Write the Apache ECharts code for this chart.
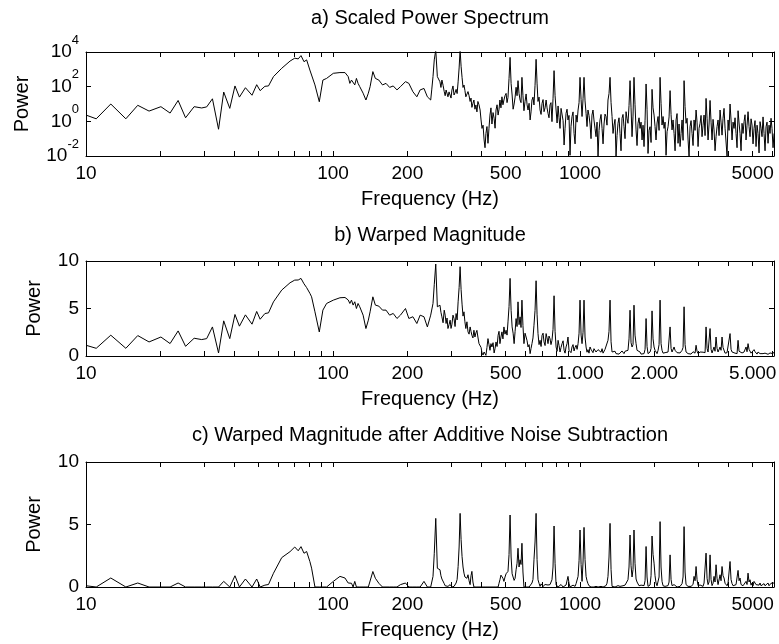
<!DOCTYPE html>
<html lang="en">
<head>
  <meta charset="UTF-8">
  <title>Spectra</title>
  <script src="https://cdn.jsdelivr.net/npm/echarts@6/dist/echarts.min.js"></script>
  <style>html, body { margin: 0; padding: 0; background: #fff; }</style>
</head>
<body>
  <div id="app" style="width: 779px; height: 644px;"></div>
  <script>
    // frequency bins (Hz), shared by the three panels
    var freq = [
      10, 11, 12.6, 14.5, 16.2, 18, 20.1, 21.9, 23.6, 25.3,
      27.4, 29.4, 30.8, 32.5, 34.4, 36.1, 38.2, 40.1, 41.8, 44.2,
      47, 49.1, 50.7, 53, 54.8, 57.4, 62, 67, 70, 72.3,
      74.2, 76.3, 78.2, 80.6, 81.9, 84.5, 88, 91, 94.2, 100.3,
      106.7, 111.8, 115.2, 117, 118.8, 120.6, 122.5, 124.4, 126.3, 128.3,
      132.4, 135.9, 139, 141.3, 145, 148.4, 153.3, 158.6, 163.9, 169.5,
      175.3, 181.5, 187.5, 196.5, 202.8, 210.6, 218.5, 225.3, 233.5, 241,
      248.6, 251, 254, 257, 260.6, 264.5,
      271, 276, 282, 287, 292, 298, 303, 309, 315, 321,
      327, 333, 339, 345, 352, 359, 365, 372, 379, 386,
      394, 401, 409, 416, 424, 432, 440, 449, 457, 466,
      474, 483, 492, 502, 511, 521, 531, 541, 551, 561,
      572, 582, 593, 605, 616, 628, 639, 651, 664, 676,
      689, 702, 715, 729, 742, 756, 770, 785, 800, 815,
      830, 846, 862, 878, 894, 911, 928, 946, 964, 982,
      1000, 1019, 1038, 1058, 1077, 1098, 1118, 1139, 1161, 1183,
      1205, 1228, 1251, 1274, 1298, 1323, 1348, 1373, 1399, 1425,
      1452, 1479, 1507, 1536, 1564, 1594, 1624, 1654, 1686, 1717,
      1750, 1783, 1816, 1851, 1885, 1921, 1957, 1994, 2031, 2070,
      2109, 2148, 2189, 2230, 2272, 2315, 2358, 2403, 2448, 2494,
      2541, 2589, 2638, 2687, 2738, 2789, 2842, 2895, 2950, 3005,
      3062, 3119, 3178, 3238, 3299, 3361, 3424, 3488, 3554, 3621,
      3689, 3758, 3829, 3901, 3975, 4049, 4126, 4203, 4282, 4363,
      4445, 4528, 4614, 4700, 4789, 4879, 4971, 5064, 5160, 5257,
      5356, 5456, 5559, 5664, 5770, 5879, 5989, 6102
    ]

    // a) scaled power spectrum
    var scaledPower = [
      2.3, 1.4, 10, 1.4, 8.4, 3.9, 7, 3, 16, 1.6,
      7, 5.9, 6.8, 20, 0.35, 49, 5.6, 110, 25, 87,
      32, 130, 59, 105, 110, 380, 1150, 3000, 4400, 4000,
      6200, 2750, 3500, 910, 1150, 126, 13.5, 240, 300, 590,
      650, 650, 380, 155, 240, 300, 126, 300, 155, 100,
      42, 17, 42, 100, 740, 300, 240, 126, 155, 91,
      110, 65, 100, 195, 155, 51, 26, 65, 79, 26,
      17, 65, 380, 3500, 13000, 380,
      190, 240, 52, 64, 26, 41, 64, 33, 70, 190,
      13000, 345, 125, 26, 52, 14, 6.4, 17, 8.8, 14,
      4.5, 0.39, 0.084, 0.2, 0.054, 2.3, 0.7, 1.5, 4.5, 2.3,
      17, 26, 17, 41, 24, 4900, 33, 10, 92, 222,
      17, 345, 4.1, 38, 4.5, 1.2, 17, 8.8, 3800, 14,
      4.5, 11, 3.6, 17, 2.9, 8.8, 0.96, 840, 4.5, 7.7,
      0.39, 4.5, 0.043, 2.9, 1.2, 0.011, 1.9, 0.2, 2.3, 4.5,
      345, 1.9, 345, 2.9, 4.5, 0.7, 2.3, 1.2, 0.13, 0.009,
      1.2, 0.39, 0.7, 1.9, 17, 345, 1.9, 0.61, 0.009, 0.77,
      0.2, 1.5, 0.49, 3.6, 0.77, 222, 0.13, 345, 0.32, 0.77,
      0.39, 0.084, 0.035, 143, 0.014, 0.49, 70, 2.3, 0.084, 1.9,
      345, 0.61, 0.39, 0.011, 0.49, 59, 0.32, 0.2, 1.2, 0.054,
      0.035, 1.2, 222, 0.77, 0.084, 0.49, 0.2, 1.2, 4.5, 0.035,
      0.77, 0.13, 2.3, 21, 0.084, 16, 0.084, 0.32, 0.13, 1.2,
      4.5, 0.16, 5.6, 0.32, 1.2, 10, 0.084, 0.39, 0.2, 4.1,
      0.2, 0.77, 0.96, 0.084, 3.6, 0.13, 0.61, 0.39, 0.035, 0.2,
      0.96, 0.13, 0.2, 0.49, 0.054, 0.2, 0.39, 0.2
    ]

    // b) warped magnitude
    var warpedMag = [
      1.13, 0.81, 2.19, 0.81, 2.15, 1.48, 2.0, 1.31, 2.64, 1.02,
      1.87, 1.73, 1.83, 3.06, 0.32, 3.7, 1.83, 4.37, 3.14, 4.33,
      3.35, 4.69, 3.87, 4.47, 4.54, 5.7, 6.94, 7.71, 7.99, 8.0,
      8.17, 7.6, 7.2, 6.6, 6.23, 4.65, 2.53, 4.83, 5.53, 5.88,
      6.13, 6.16, 5.9, 5.53, 5.88, 5.36, 5.71, 5.0, 5.53, 5.18,
      4.3, 2.89, 3.77, 4.65, 6.23, 5.36, 5.25, 4.83, 4.83, 4.3,
      4.48, 3.95, 4.3, 5.0, 3.95, 4.13, 3.42, 4.3, 4.13, 3.06,
      4.3, 4.13, 5.53, 7.5, 9.68, 5.18,
      5.35, 4.12, 4.82, 3.42, 2.89, 3.77, 3.35, 3.94, 4.47, 5.7,
      9.4, 5.46, 4.65, 2.89, 2.54, 3.06, 2.18, 2.71, 2.43, 2.0,
      1.48, 0.32, 0.42, 0.07, 1.83, 0.6, 0.95, 0.32, 1.48, 2.18,
      1.3, 2.54, 3.06, 2.71, 3.59, 8.17, 3.06, 1.3, 3.94, 5.7,
      4.12, 5.88, 1.3, 2.0, 0.95, 0.25, 1.3, 3.24, 7.92, 2.36,
      1.65, 2.18, 1.48, 2.36, 1.3, 1.83, 1.65, 6.34, 0.95, 1.65,
      0.42, 1.3, 0.6, 0.95, 2.0, 0.77, 0.95, 0.53, 1.13, 1.3,
      5.88, 1.3, 5.88, 0.95, 0.67, 0.95, 0.53, 0.77, 0.42, 0.67,
      0.53, 0.77, 0.42, 0.6, 1.65, 5.88, 0.42, 0.6, 0.25, 0.42,
      0.32, 0.53, 0.25, 0.42, 0.6, 4.82, 0.95, 5.35, 1.3, 0.77,
      0.42, 0.32, 0.25, 3.94, 0.25, 0.42, 4.75, 0.95, 0.42, 0.6,
      5.88, 0.6, 0.42, 0.25, 0.42, 3.06, 0.42, 0.95, 0.42, 0.25,
      0.32, 0.6, 5.18, 0.42, 0.25, 0.42, 0.32, 0.6, 1.13, 0.25,
      0.42, 0.32, 0.6, 3.06, 0.42, 2.89, 0.32, 0.95, 2.0, 0.42,
      0.95, 2.0, 0.77, 0.42, 0.53, 2.36, 0.42, 0.25, 0.42, 1.65,
      0.6, 0.32, 0.42, 0.95, 1.3, 0.6, 0.42, 0.67, 0.32, 0.42,
      0.25, 0.32, 0.18, 0.25, 0.18, 0.32, 0.18, 0.42
    ]

    // c) warped magnitude after additive noise subtraction
    var denoisedMag = [
      0.1, 0, 0.72, 0, 0.32, 0, 0, 0, 0.32, 0,
      0, 0, 0, 0, 0, 0.45, 0, 0.9, 0, 0.64,
      0, 0.64, 0, 0.15, 0.2, 1.1, 2.35, 2.83, 3.2, 2.9,
      3.23, 2.7, 2.84, 2.04, 1.51, 0, 0, 0, 0, 0.45,
      0.85, 0.72, 0.32, 0.18, 0.3, 0, 0.45, 0, 0, 0,
      0, 0, 0, 0, 1.24, 0.7, 0.3, 0, 0, 0,
      0, 0, 0.19, 0.32, 0, 0, 0, 0, 0.45, 0,
      0, 0.1, 0.85, 2.66, 5.49, 1.5,
      1.38, 0.64, 0.27, 0.11, 0.05, 0.19, 0, 0.05, 0.32, 1.64,
      5.89, 2.44, 1.11, 0.85, 0.98, 0.19, 1.25, 0, 0, 0,
      0, 0, 0, 0, 0, 0, 0, 0, 0, 0,
      0.58, 0.85, 0.45, 1.06, 1.25, 5.76, 1.06, 0.53, 1.38, 3.1,
      2.18, 3.5, 0, 0, 0, 0.05, 0.32, 2.18, 5.89, 0.58,
      0.05, 0.19, 0.11, 0.27, 0.16, 0.19, 0.58, 4.88, 0.19, 0,
      0.05, 0.11, 0, 0.16, 0.85, 0, 0.05, 0.11, 0.27, 0.85,
      4.56, 0.45, 4.77, 0.85, 0.27, 0.05, 0.11, 0, 0.05, 0,
      0.11, 0, 0.05, 0.11, 0.85, 5.09, 0.05, 0, 0.05, 0.11,
      0.05, 0.16, 0.05, 0.27, 0.58, 4.16, 0.8, 4.56, 0.64, 0.27,
      0.19, 0.05, 0.11, 3.24, 0.05, 0.16, 4.08, 1.91, 0.32, 0.19,
      5.23, 0.45, 0.19, 0, 0.11, 2.57, 0.11, 0.19, 0.11, 0,
      0.05, 0.27, 4.83, 0.19, 0.05, 0.16, 0.11, 0.85, 1.64, 0.11,
      0.16, 0.05, 0.32, 2.71, 0.19, 2.57, 0.11, 0.85, 1.78, 0.19,
      0.98, 1.64, 0.72, 0.19, 0.32, 2.04, 0.27, 0.11, 0.19, 1.33,
      0.72, 0.32, 0.19, 0.45, 1.11, 0.58, 0.32, 0.45, 0.19, 0.27,
      0.32, 0.19, 0.27, 0.16, 0.32, 0.19, 0.27, 0.32
    ]

    // extra bins lying between the bins above (dense upper band)
    var freqHalf = [
      273.5, 279, 284.5, 289.5, 295, 300.5, 306, 312, 318, 324,
      330, 336, 342, 348.5, 355.5, 362, 368.5, 375.5, 382.5, 390,
      397.5, 405, 412.5, 420, 428, 436, 444.5, 453, 461.5, 470,
      478.5, 487.5, 497, 506.5, 516, 526, 536, 546, 556, 566.5,
      577, 587.5, 599, 610.5, 622, 633.5, 645, 657.5, 670, 682.5,
      695.5, 708.5, 722, 735.5, 749, 763, 777.5, 792.5, 807.5, 822.5,
      838, 854, 870, 886, 902.5, 919.5, 937, 955, 973, 991,
      1010, 1028.5, 1048, 1067.5, 1087.5, 1108, 1128.5, 1150, 1172, 1194,
      1216.5, 1239.5, 1262.5, 1286, 1310.5, 1335.5, 1360.5, 1386, 1412, 1438.5,
      1465.5, 1493, 1521.5, 1550, 1579, 1609, 1639, 1670, 1701.5, 1733.5,
      1766.5, 1799.5, 1833.5, 1868, 1903, 1939, 1975.5, 2012.5, 2050.5, 2089.5,
      2128.5, 2168.5, 2209.5, 2251, 2293.5, 2336.5, 2380.5, 2425.5, 2471, 2517.5,
      2565, 2613.5, 2662.5, 2712.5, 2763.5, 2815.5, 2868.5, 2922.5, 2977.5, 3033.5,
      3090.5, 3148.5, 3208, 3268.5, 3330, 3392.5, 3456, 3521, 3587.5, 3655,
      3723.5, 3793.5, 3865, 3938, 4012, 4087.5, 4164.5, 4242.5, 4322.5, 4404,
      4486.5, 4571, 4657, 4744.5, 4834, 4925, 5017.5, 5112, 5208.5, 5306.5,
      5406, 5507.5, 5611.5, 5717, 5824.5, 5934, 6045.5
    ]
    var scaledPowerHalf = [
      90, 120, 30, 75, 50, 22, 110, 45, 40, 1200,
      1500, 90, 60, 20, 30, 22, 11, 5, 3.5, 9,
      1.2, 0.6, 0.03, 0.5, 0.4, 6, 3.2, 0.4, 9, 5,
      6, 9, 30, 12, 300, 150, 5, 25, 30, 40,
      12, 30, 14, 9, 11, 3.5, 25, 120, 160, 25,
      2.5, 18, 6, 6, 1.6, 12, 20, 30, 0.8, 1.6,
      5.6, 1.1, 0.4, 5, 2.2, 0.5, 3.5, 0.05, 0.9, 12,
      18, 20, 15, 0.5, 2.2, 0.1, 4.5, 0.4, 0.9, 0.3,
      2.5, 0.05, 2.6, 0.6, 40, 12, 0.2, 1.3, 0.15, 1.6,
      0.02, 2.5, 0.1, 1.4, 8, 6, 2, 9, 0.04, 1.6,
      0.9, 0.6, 1.1, 5, 0.3, 0.06, 6, 0.5, 0.8, 0.3,
      11, 1.9, 0.9, 0.25, 1.8, 2.5, 1.2, 0.02, 2.8, 0.7,
      0.2, 0.08, 7, 1.5, 0.01, 1.1, 0.04, 0.3, 0.9, 0.4,
      2.2, 0.6, 0.15, 1.5, 0.7, 0.9, 1.3, 0.02, 0.5, 0.15,
      0.9, 1.5, 0.4, 0.01, 0.3, 1.2, 0.9, 1.6, 0.03, 0.8,
      0.02, 0.2, 2.4, 0.6, 0.5, 1.4, 0.05, 1.1, 0.6, 0.015,
      0.4, 1.8, 0.02, 0.9, 0.6, 1.5, 0.03
    ]
    var warpedMagHalf = [
      4.6, 3.5, 4.3, 4.0, 3.3, 2.9, 4.3, 3.1, 3.8, 7.2,
      7.0, 4.2, 3.6, 3.6, 2.3, 2.6, 1.9, 2.0, 2.7, 1.3,
      0.9, 0.1, 0.3, 0.9, 1.2, 1.3, 1.4, 0.8, 1.0, 2.6,
      2.0, 1.8, 2.3, 2.2, 5.2, 4.8, 2.4, 2.6, 3.1, 3.3,
      3.0, 3.2, 2.4, 1.6, 1.2, 0.8, 1.9, 4.8, 4.4, 1.2,
      1.0, 2.4, 1.1, 1.9, 2.1, 1.2, 2.8, 2.6, 0.5, 1.1,
      0.9, 1.6, 0.3, 1.3, 0.6, 0.35, 1.2, 0.9, 0.7, 2.4,
      2.2, 2.5, 2.0, 0.4, 0.3, 0.7, 0.35, 0.6, 0.3, 0.8,
      0.4, 0.3, 0.7, 0.5, 2.6, 1.5, 0.3, 0.5, 0.45, 0.2,
      0.4, 0.35, 0.5, 0.3, 1.8, 1.4, 1.2, 2.2, 0.6, 0.5,
      0.2, 0.4, 0.7, 1.0, 0.35, 0.8, 1.8, 0.6, 0.25, 1.2,
      1.3, 0.3, 0.35, 0.2, 0.5, 0.8, 0.3, 0.6, 0.35, 0.4,
      0.2, 0.9, 1.2, 0.3, 0.35, 0.2, 0.45, 0.3, 0.5, 0.35,
      0.25, 0.4, 0.35, 0.8, 0.3, 0.7, 0.45, 0.5, 0.8, 0.3,
      0.6, 0.9, 0.3, 0.35, 0.4, 0.7, 0.35, 0.3, 0.25, 0.5,
      0.4, 0.25, 0.3, 0.45, 0.7, 0.3, 0.25, 0.45, 0.2, 0.35,
      0.4, 0.25, 0.3, 0.35, 0.25, 0.3, 0.25
    ]
    var denoisedMagHalf = [
      0.9, 0.5, 0.1, 0.15, 0, 0.1, 0, 0.2, 0.6, 3.2,
      3.8, 1.6, 0.8, 0.7, 0.5, 0.9, 0.4, 0, 0, 0,
      0, 0, 0, 0, 0, 0, 0, 0, 0, 0.3,
      0.95, 0.7, 0.8, 0.9, 2.6, 2.4, 0.9, 0.7, 1.9, 1.6,
      1.8, 1.2, 0, 0, 0, 0.15, 0.6, 3.6, 2.2, 0.3,
      0.25, 0.05, 0.2, 0.1, 0.3, 0.1, 1.6, 1.9, 0.05, 0,
      0.2, 0, 0.05, 0.3, 0.3, 0, 0.15, 0.05, 0.4, 2.1,
      1.8, 2.0, 2.2, 0.5, 0.1, 0, 0.05, 0, 0.1, 0,
      0.05, 0, 0.15, 0.3, 2.4, 1.4, 0, 0, 0, 0.1,
      0, 0.1, 0.15, 0.2, 1.6, 1.7, 1.4, 1.9, 0.4, 0.1,
      0.15, 0, 0.5, 0.8, 0.1, 0.9, 2.6, 0.9, 0.1, 0.8,
      1.6, 0.1, 0.05, 0, 0.4, 0.6, 0.05, 0.1, 0, 0,
      0.1, 0.8, 1.2, 0.1, 0, 0.05, 0.2, 0.5, 0.6, 0,
      0.1, 0.05, 0.3, 0.7, 0.4, 0.6, 0.3, 0.4, 0.7, 0.1,
      0.5, 0.9, 0.3, 0.1, 0.2, 0.6, 0.1, 0.05, 0.1, 0.5,
      0.2, 0.1, 0.1, 0.2, 0.4, 0.15, 0.1, 0.3, 0.1, 0.15,
      0.1, 0.25, 0.1, 0.2, 0.1, 0.3, 0.15
    ]

    var xTicks = [10, 20, 30, 40, 50, 60, 70, 80, 90, 100, 200, 300, 400, 500, 600, 700, 800, 900,
      1000, 2000, 3000, 4000, 5000, 6000]
    var xLabelsA = [10, 100, 200, 500, 1000, 5000]
    var xLabelsB = [10, 100, 200, 500, 1000, 2000, 5000]
    var xLabelsC = [10, 100, 200, 500, 1000, 2000, 5000]
    var yTicksLog = [0.01, 1, 100, 10000]
    var titles = ['a) Scaled Power Spectrum', 'b) Warped Magnitude',
      'c) Warped Magnitude after Additive Noise Subtraction']

    var font = 'Liberation Sans, Arial, sans-serif'
    var chart = echarts.init(document.getElementById('app'))

    // join main bins and in-between bins, sorted by frequency
    function pairs(vals, halfVals) {
      var out = []
      for (var i = 0; i < freq.length && i < vals.length; i++) out.push([freq[i], vals[i]])
      for (var j = 0; j < freqHalf.length && j < halfVals.length; j++) out.push([freqHalf[j], halfVals[j]])
      out.sort(function (a, b) { return a[0] - b[0] })
      return out
    }

    var panels = [
      { top: 52, height: 104, titleTop: 8, xLabels: xLabelsA, dots: false, data: scaledPower, half: scaledPowerHalf, log: true, nameGap: 54 },
      { top: 261, height: 95, titleTop: 225, xLabels: xLabelsB, dots: true, data: warpedMag, half: warpedMagHalf, log: false, nameGap: 42 },
      { top: 462, height: 125, titleTop: 425, xLabels: xLabelsC, dots: false, data: denoisedMag, half: denoisedMagHalf, log: false, nameGap: 42 }
    ]

    var grid = [], xAxis = [], yAxis = [], series = [], title = []

    panels.forEach(function (p, i) {
      grid.push({ left: 86, width: 688, top: p.top, height: p.height, outerBoundsMode: 'none' })
      title.push({
        text: titles[i], left: 430, top: p.titleTop, textAlign: 'center', padding: 0,
        textStyle: { fontSize: 20, fontWeight: 'normal', color: '#000', fontFamily: font }
      })
      var dots = p.dots
      function xBase(pos) {
        return {
          gridIndex: i, type: 'log', logBase: 10, min: 10, max: 6100, position: pos, z: 5,
          axisLine: { show: true, onZero: false, lineStyle: { color: '#000', width: 1 } },
          axisTick: { show: true, inside: true, length: 5, customValues: xTicks, lineStyle: { color: '#000', width: 1 } },
          splitLine: { show: false }
        }
      }
      var xb = xBase('bottom')
      xb.axisLabel = {
        customValues: p.xLabels, color: '#000', fontSize: 19, fontFamily: font, margin: 8,
        formatter: function (v) {
          if (dots && v >= 1000) return (v / 1000) + '.000'
          return String(v)
        }
      }
      xb.name = 'Frequency (Hz)'
      xb.nameLocation = 'middle'
      xb.nameGap = 33
      xb.nameTextStyle = { fontSize: 20, color: '#000', fontFamily: font }
      var xt = xBase('top')
      xt.axisLabel = { show: false }
      xAxis.push(xb, xt)

      function yBase(pos) {
        var y = {
          gridIndex: i, position: pos, z: 5,
          axisLine: { show: true, onZero: false, lineStyle: { color: '#000', width: 1 } },
          axisTick: { show: true, inside: true, length: 5, lineStyle: { color: '#000', width: 1 } },
          splitLine: { show: false }
        }
        if (p.log) {
          y.type = 'log'
          y.logBase = 10
          y.min = 0.01
          y.max = 10000
          y.axisTick.customValues = yTicksLog
        } else {
          y.type = 'value'
          y.min = 0
          y.max = 10
          y.interval = 5
        }
        return y
      }
      var yl = yBase('left')
      yl.axisLabel = { color: '#000', fontSize: 19, fontFamily: font, margin: 7 }
      if (p.log) {
        yl.axisLabel.customValues = yTicksLog
        yl.axisLabel.formatter = function (v) {
          return '10{s|' + Math.round(Math.log10(v)) + '}'
        }
        yl.axisLabel.rich = { s: { fontSize: 13, fontFamily: font, color: '#000', padding: [0, 0, 24, 0] } }
      }
      yl.name = 'Power'
      yl.nameLocation = 'middle'
      yl.nameGap = p.nameGap
      yl.nameTextStyle = { fontSize: 20, color: '#000', fontFamily: font }
      var yr = yBase('right')
      yr.axisLabel = { show: false }
      yAxis.push(yl, yr)

      series.push({
        type: 'line', xAxisIndex: i * 2, yAxisIndex: i * 2,
        data: pairs(p.data, p.half), showSymbol: false, symbol: 'none',
        lineStyle: { color: '#000', width: 1 }, clip: true
      })
    })

    chart.setOption({
      animation: false,
      title: title,
      grid: grid,
      xAxis: xAxis,
      yAxis: yAxis,
      series: series
    })
  </script>
</body>
</html>
